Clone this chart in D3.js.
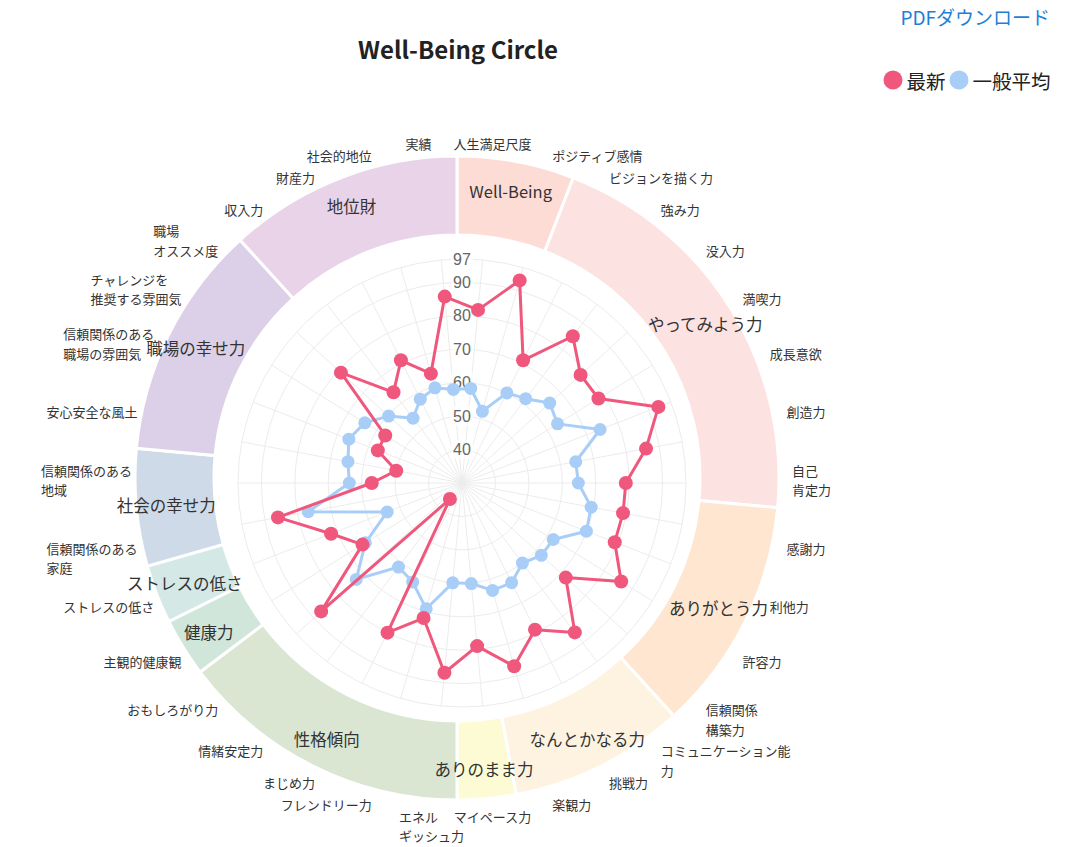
<!DOCTYPE html>
<html>
<head>
<meta charset="utf-8">
<script src="https://cdn.jsdelivr.net/npm/d3@7"></script>
<style>
  html, body { margin: 0; padding: 0; background: #fff; }
  svg { display: block; }
  text { font-family: "Noto Sans CJK JP", "Noto Sans", sans-serif; }
</style>
</head>
<body>
<svg id="chart" width="1070" height="847"></svg>
<script>
// ---------------- data ----------------
const axisLabels = [
  "人生満足尺度", "ポジティブ感情", "ビジョンを描く力", "強み力", "没入力", "満喫力",
  "成長意欲", "創造力", "自己\n肯定力", "感謝力", "利他力", "許容力",
  "信頼関係\n構築力", "コミュニケーション能\n力", "挑戦力", "楽観力", "マイペース力",
  "エネル\nギッシュ力", "フレンドリー力", "まじめ力", "情緒安定力", "おもしろがり力",
  "主観的健康観", "ストレスの低さ", "信頼関係のある\n家庭", "信頼関係のある\n地域",
  "安心安全な風土", "信頼関係のある\n職場の雰囲気", "チャレンジを\n推奨する雰囲気",
  "職場\nオススメ度", "収入力", "財産力", "社会的地位", "実績"
];
const latest = [82, 93, 71, 85, 78, 78, 93, 86, 79, 79, 79, 86, 72, 86, 79, 87, 79,
  87, 72, 80, 36, 87, 65, 72, 86, 57, 50, 57, 57, 79, 64, 71, 64, 86];
const average = [58.4, 52.3, 60.1, 61.6, 65.5, 63.6, 74.3, 64.6, 64.8, 69.3, 69.9, 62.1,
  62.1, 60, 63.3, 63.4, 60.2, 60, 69.1, 63.1, 61.5, 72.8, 64, 54, 76.8, 63.7, 64.7,
  66.3, 64.2, 59.7, 54.3, 58, 59.6, 58.1];
const groupNames = ["Well-Being", "やってみよう力", "ありがとう力", "なんとかなる力", "ありのまま力",
  "性格傾向", "健康力", "ストレスの低さ", "社会の幸せ力", "職場の幸せ力", "地位財"];
const groupSizes = [2, 7, 4, 3, 1, 5, 1, 1, 2, 4, 4];
const groupColors = ["#fddcd6", "#fde2e2", "#fee6d1", "#fef3e0", "#fdfbd3", "#dae6d2",
  "#d0e6da", "#d4e9e6", "#cfdae8", "#dbd0e7", "#e9d3e9"];
const tickValues = [40, 50, 60, 70, 80, 90, 97];
const scaleMin = 30, scaleMax = 97;
const seriesNames = ["最新", "一般平均"];
const seriesColors = ["#f0577c", "#a8cef8"];

// ---------------- layout ----------------
const svg = d3.select("#chart");
const ringC = { x: 457, y: 478 };
const radarC = { x: 462, y: 483 };
const labelC = { x: 462, y: 480 };
const R = 224;
const n = axisLabels.length;

const rScale = d3.scaleLinear().domain([scaleMin, scaleMax]).range([0, R]);
const aScale = d3.scaleLinear().domain([0, n]).range([0, 2 * Math.PI]);
const ang = i => aScale(i + 0.5);

// ---------------- ring ----------------
const ringG = svg.append("g").attr("transform", `translate(${ringC.x},${ringC.y})`);
const pie = d3.pie().sort(null).value(d => d).startAngle(0).endAngle(2 * Math.PI);
const arcs = pie(groupSizes);
const arc = d3.arc().innerRadius(243).outerRadius(322);
ringG.selectAll("path.seg").data(arcs).join("path")
  .attr("class", "seg")
  .attr("d", arc)
  .attr("fill", (d, i) => groupColors[i])
  .attr("stroke", "#fff")
  .attr("stroke-width", 3);
const labelArc = d3.arc().innerRadius(262).outerRadius(322);
ringG.selectAll("text.grp").data(arcs).join("text")
  .attr("class", "grp")
  .attr("x", d => labelArc.centroid(d)[0])
  .attr("y", d => labelArc.centroid(d)[1])
  .attr("text-anchor", "middle")
  .attr("dominant-baseline", "central")
  .attr("font-size", 16.5)
  .attr("fill", "#333")
  .text((d, i) => groupNames[i]);

// ---------------- radar grid ----------------
const radarG = svg.append("g").attr("transform", `translate(${radarC.x},${radarC.y})`);
radarG.selectAll("circle.grid").data(tickValues).join("circle")
  .attr("class", "grid")
  .attr("r", d => rScale(d))
  .attr("fill", "none")
  .attr("stroke", "#ececec")
  .attr("stroke-width", 1);
radarG.selectAll("line.spoke").data(d3.range(n)).join("line")
  .attr("class", "spoke")
  .attr("x1", 0).attr("y1", 0)
  .attr("x2", i => R * Math.sin(ang(i)))
  .attr("y2", i => -R * Math.cos(ang(i)))
  .attr("stroke", "#ececec")
  .attr("stroke-width", 1);

// tick labels
const tickG = radarG.selectAll("g.tick").data(tickValues).join("g").attr("class", "tick")
  .attr("transform", d => `translate(0,${-rScale(d)})`);
tickG.each(function (d) {
  const g = d3.select(this);
  const t = g.append("text")
    .attr("text-anchor", "middle")
    .attr("dominant-baseline", "central")
    .attr("font-size", 16)
    .attr("fill", "#666")
    .style("font-family", "'Liberation Sans', Arial, sans-serif")
    .text(d);
  const bb = t.node().getBBox();
  g.insert("rect", "text")
    .attr("x", bb.x - 2).attr("y", bb.y - 1)
    .attr("width", bb.width + 4).attr("height", bb.height + 2)
    .attr("fill", "rgba(255,255,255,0.75)");
});

// ---------------- series ----------------
const series = [average, latest];
const sColors = [seriesColors[1], seriesColors[0]];
const pRadius = [6.5, 7];
series.forEach((vals, si) => {
  const line = d3.lineRadial()
    .angle((d, i) => ang(i))
    .radius(d => rScale(d))
    .curve(d3.curveLinearClosed);
  radarG.append("path")
    .attr("d", line(vals))
    .attr("fill", "none")
    .attr("stroke", sColors[si])
    .attr("stroke-width", 3)
    .attr("stroke-linejoin", "round");
  radarG.selectAll(null).data(vals).join("circle")
    .attr("cx", (d, i) => rScale(d) * Math.sin(ang(i)))
    .attr("cy", (d, i) => -rScale(d) * Math.cos(ang(i)))
    .attr("r", pRadius[si])
    .attr("fill", sColors[si]);
});

// ---------------- outer axis labels (anchored by nearest corner) ----------------
const lh = 19.5, labelR = 330, lineBox = 15;
const labelG = svg.append("g").attr("transform", `translate(${labelC.x},${labelC.y})`);
axisLabels.forEach((lab, i) => {
  const lines = lab.split("\n");
  const t = labelG.append("text")
    .attr("font-size", 13)
    .attr("fill", "#333");
  lines.forEach(l => t.append("tspan").text(l));
  let w = 0;
  t.selectAll("tspan").each(function () { w = Math.max(w, this.getComputedTextLength()); });
  const h = (lines.length - 1) * lh + lineBox;
  const a = ang(i);
  const s = Math.sin(a), c = Math.cos(a);
  const ax = labelR * s, ay = -labelR * c;
  let left;
  const centered = Math.abs(s) < 0.1 && !(c > 0 && s < 0);
  if (centered) left = ax - w / 2;
  else if (s > 0) left = ax;
  else left = ax - w;
  let top;
  if (Math.abs(c) < 1e-6) top = ay - h / 2;
  else if (c > 0) top = ay - h;
  else top = ay;
  t.selectAll("tspan")
    .attr("x", left)
    .attr("y", (l, j) => top + lineBox / 2 + j * lh)
    .attr("dominant-baseline", "central");
});

// ---------------- title, legend, link ----------------
svg.append("text")
  .attr("x", 458).attr("y", 48)
  .attr("text-anchor", "middle").attr("dominant-baseline", "central")
  .attr("font-size", 24).attr("font-weight", "bold").attr("fill", "#222")
  .text("Well-Being Circle");

svg.append("text")
  .attr("x", 1050).attr("y", 16)
  .attr("text-anchor", "end").attr("dominant-baseline", "central")
  .attr("font-size", 19).attr("fill", "#1e7fd8")
  .text("PDFダウンロード");

const legend = svg.append("g");
const legX = [893, 959];
seriesNames.forEach((s, i) => {
  legend.append("circle").attr("cx", legX[i]).attr("cy", 80).attr("r", 9.5).attr("fill", seriesColors[i]);
  legend.append("text").attr("x", legX[i] + 13.5).attr("y", 80)
    .attr("dominant-baseline", "central").attr("font-size", 19.5).attr("fill", "#222")
    .text(s);
});
</script>
</body>
</html>
